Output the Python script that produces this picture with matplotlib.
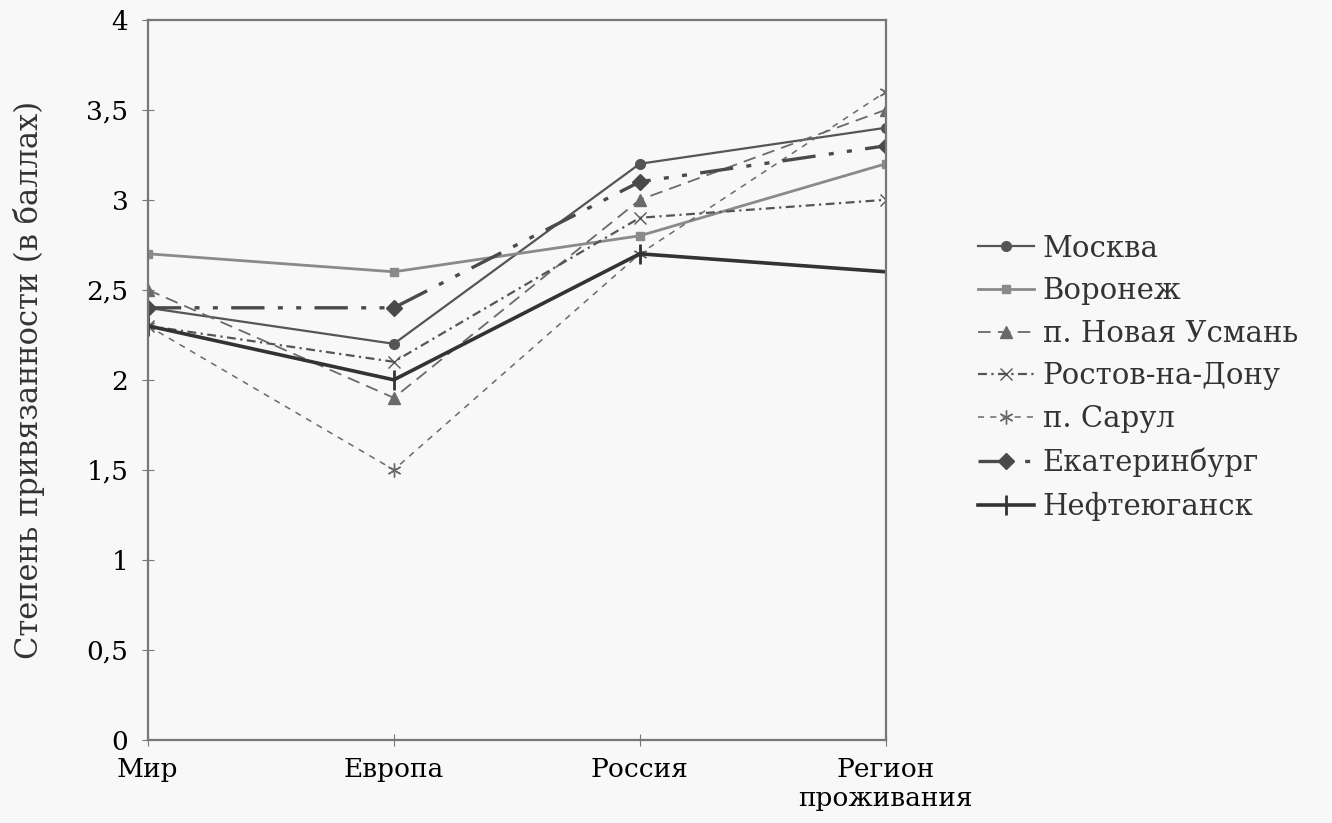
import numpy as np
import matplotlib
matplotlib.use("Agg")
import matplotlib.pyplot as plt
from matplotlib.ticker import FuncFormatter

plt.rcParams["font.family"] = ["DejaVu Serif", "DejaVu Sans"]

categories = ["Мир", "Европа", "Россия", "Регион\nпроживания"]

moskva = [2.4, 2.2, 3.2, 3.4]
voronezh = [2.7, 2.6, 2.8, 3.2]
novaya_usman = [2.5, 1.9, 3.0, 3.5]
rostov = [2.3, 2.1, 2.9, 3.0]
sarul = [2.3, 1.5, 2.7, 3.6]
ekaterinburg = [2.4, 2.4, 3.1, 3.3]
nefteyugansk = [2.3, 2.0, 2.7, 2.6]

fig = plt.figure(figsize=(13.32, 8.23), dpi=100, facecolor="#f8f8f8")
ax = fig.add_axes([0.111, 0.101, 0.554, 0.875])
ax.set_facecolor("#f8f8f8")

x = np.arange(len(categories))

ax.plot(x, moskva, color="#555555", lw=1.6, ls="-", marker="o", ms=7,
        label="Москва")
ax.plot(x, voronezh, color="#8a8a8a", lw=2.0, ls="-", marker="s", ms=6,
        label="Воронеж")
ax.plot(x, novaya_usman, color="#6a6a6a", lw=1.3, ls=(0, (7, 4)), marker="^", ms=8,
        label="п. Новая Усмань")
ax.plot(x, rostov, color="#555555", lw=1.6, ls=(0, (4, 2, 1, 2)), marker="x", ms=9,
        label="Ростов-на-Дону")
ax.plot(x, sarul, color="#6a6a6a", lw=1.1, ls=(0, (4, 4)), marker=(6, 2, 0), ms=10,
        label="п. Сарул")
ax.plot(x, ekaterinburg, color="#4a4a4a", lw=2.4, ls=(0, (10, 4, 1.5, 4, 1.5, 4)),
        marker="D", ms=8, label="Екатеринбург")
ax.plot(x, nefteyugansk, color="#333333", lw=2.6, ls="-", marker="|", ms=14, mew=2,
        label="Нефтеюганск")

ax.set_xlim(0, 3)
ax.set_ylim(0, 4)
ax.set_xticks(x)
ax.set_xticklabels(categories, fontsize=19)
for lbl in ax.get_xticklabels()[-1:]:
    lbl.set_multialignment("center")
ax.set_yticks(np.arange(0, 4.01, 0.5))
ax.yaxis.set_major_formatter(FuncFormatter(
    lambda v, p: ("%g" % v).replace(".", ",")))
ax.tick_params(axis="y", labelsize=19, direction="inout", length=8, color="#777777",
               pad=10)
ax.tick_params(axis="x", direction="inout", length=8, color="#777777", pad=8)

for s in ax.spines.values():
    s.set_color("#777777")
    s.set_linewidth(1.6)

ax.set_ylabel("Степень привязанности (в баллах)", fontsize=22, color="#333333",
              labelpad=30)

leg = ax.legend(loc="center left", bbox_to_anchor=(1.09, 0.503), frameon=False,
                fontsize=21, handlelength=1.9, labelspacing=0.5, handletextpad=0.3,
                labelcolor="#333333")

fig.savefig("out.png", dpi=100, facecolor=fig.get_facecolor())
